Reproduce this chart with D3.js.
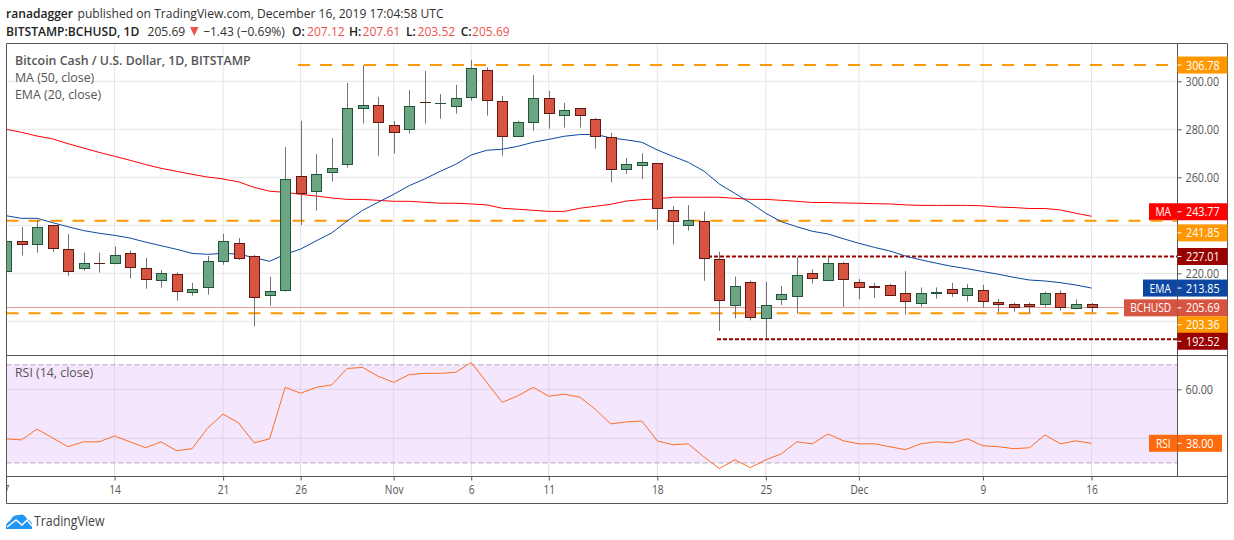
<!DOCTYPE html>
<html>
<head>
<meta charset="utf-8">
<script src="https://cdn.jsdelivr.net/npm/d3@7"></script>
<style>
  html, body { margin: 0; padding: 0; background: #fff; }
  svg { display: block; }
  text { font-family: "Open Sans", sans-serif; }
</style>
</head>
<body>
<div id="chart"></div>
<script>
// Daily candles, 7 Oct - 16 Dec 2019
const firstDay = new Date(Date.UTC(2019, 9, 7));
const lastDay = new Date(Date.UTC(2019, 11, 16));

const opens = [220.4, 233.3, 232.1, 240, 230, 221.7, 224.2, 223.75, 228.3, 222.1, 216.7, 219.6, 211.9, 213.75, 224.6, 232.5, 227.1, 210.7, 212.9, 260.4, 253.75, 261.7, 265.4, 288.6, 290,
  281.7, 280, 291.25, 290.7, 289.2, 292.9, 304.6, 291.7, 276.7, 282.5, 292.9, 285.4, 288.75, 284.2, 276.7, 263.2, 264.9, 265.8, 246.25, 240, 241.8, 226, 206.7, 216.4, 200.9, 208.75, 210.4, 220, 217.1, 224.2,
  216.4, 214.7, 215.2, 211.6, 207.4, 211.6, 213.3, 210.4, 212.9, 208.2, 207.4, 207, 206.6, 211.6, 205.3, 207.12];
const highs = [234, 239.3, 242.2, 240, 236.4, 228.6, 228.6, 231.1, 229.4, 226.4, 221.4, 220.4, 216, 227.2, 236.4, 234.7, 227.6, 218.5, 272.6, 283.5, 269.7, 276.4, 299.3, 306.7, 293.5,
  283.5, 296.4, 304.3, 294.7, 298.5, 308.9, 305.8, 293.9, 283.5, 302.6, 296, 291, 288.75, 284.7, 278.5, 268, 270, 265.8, 248, 248.4, 245.7, 229, 218.6, 216.9, 216.5, 214.7, 226.7, 221.7, 226.7, 224.7,
  217.6, 216, 215.6, 220.9, 214.1, 214.1, 216, 215.6, 215.2, 209.3, 207.8, 207.8, 212.4, 212.9, 209.1, 207.61];
const lows = [218, 227.4, 228.6, 228.9, 218.9, 221.1, 220.3, 223.75, 217.8, 213.6, 214, 208.6, 210.7, 211.1, 223.6, 225.6, 197.8, 206.5, 212.4, 240.1, 246.1, 258.2, 264, 282.4, 269,
  269.9, 278.2, 282.4, 284.4, 286.5, 291.9, 285.7, 269, 276.7, 279.4, 280.3, 280.7, 280.7, 271.9, 257.8, 261.4, 259.3, 238.1, 232, 237.8, 216.9, 196, 201.2, 200.4, 192.9, 206.8, 203.3, 215.7, 217.1, 206,
  209.2, 209.8, 211, 202.8, 206.1, 209.4, 210.2, 208.2, 205.7, 203.7, 204, 203.3, 206, 204.4, 204.9, 203.52];
const closes = [233.3, 231.7, 239.2, 230.4, 220.8, 224.2, 224, 227.5, 222.1, 217.1, 220, 212.5, 213.3, 225, 233.3, 226.1, 209.6, 212.5, 259.2, 253.3, 261.25, 263.75, 288.75, 290, 282.9,
  278.75, 289.6, 291.1, 290.8, 292.9, 305.4, 291.7, 277.1, 282.9, 292.9, 286.25, 287.9, 285.8, 277.1, 263.3, 265.4, 266.25, 246.7, 241.5, 242.2, 226, 208.9, 214.7, 201.6, 206.7, 211.25, 219.2, 217.5, 224.2, 217.5,
  214.3, 214, 211, 208.2, 211.6, 212.4, 211.6, 213.7, 208.2, 207.2, 206, 205.8, 211.6, 205.7, 207, 205.69];

const ma50 = [280, 278.75, 277.2, 276, 274, 272.2, 270.4, 268.75, 267.1, 265.3, 263.75, 262.5, 261.25, 260.1, 259.3, 258.1, 255.8, 254.2, 253.75, 252.9, 252.2, 251.4, 250.8, 250.8, 250.4,
  250, 250, 249.6, 249.2, 249.2, 248.9, 248.5, 247.1, 246.7, 246.25, 245.8, 245.8, 247.1, 247.9, 248.75, 250.1, 250.7, 251, 251.7, 251.7, 251.7, 251.7, 251.25, 250.8, 250.8, 250.4, 250, 249.5, 249.5, 249.3,
  249.2, 249, 248.9, 248.5, 248.3, 248.3, 248.3, 248.3, 248.1, 247.6, 247.4, 247, 247, 246.4, 245, 243.77];
const ema20 = [244, 242.9, 242.9, 241.1, 239.4, 237.8, 236.7, 235.8, 234.7, 233, 231.5, 230, 228.3, 227.9, 228.3, 228, 226.5, 225, 227.9, 230.1, 233.5, 236.8, 241.8, 246.25, 249.6,
  252.9, 256.5, 259.3, 262.5, 265.4, 269.3, 271.25, 271.7, 272.9, 274.6, 275.8, 277.1, 277.8, 277.9, 276.4, 275.6, 274.6, 271.4, 268.75, 266.25, 262.6, 257.2, 253.3, 249.4, 245, 241.5, 239.4, 237.5, 236.4, 234.4,
  232.5, 230.8, 229.3, 227.2, 225.6, 224.2, 222.9, 221.9, 220.7, 219.6, 218.3, 217.2, 216.8, 216.1, 215.1, 213.85];
const rsi14 = [39.8, 39.4, 43.8, 40.2, 36.6, 38.6, 38.6, 41, 38.6, 36.2, 38.6, 35, 35.8, 44.2, 49.9, 46.3, 38.2, 39.8, 60.8, 58.4, 60.8, 61.8, 68.5, 68.9, 65.3,
  62.8, 66, 66.5, 66.5, 66.9, 70.9, 62.8, 54.7, 57.3, 60.8, 57.2, 58, 56.8, 51.9, 45.9, 46.7, 47.1, 39, 37.4, 37.8, 32.5, 27.7, 31.3, 28.1, 31.3, 33.7, 38.6, 37.8, 41.8, 39,
  37.8, 37.8, 36.6, 35.4, 37.8, 38.6, 38.2, 39.8, 37, 36.6, 35.8, 36.2, 41.4, 37.8, 39, 38];

const priceTicks = [220, 260, 280, 300];
const priceGrid = [200, 220, 240, 260, 280, 300];
const rsiTicks = [60];
const rsiGrid = [40, 60];
const rsiBands = [30, 70];
const timeTicks = [[2019, 9, 7], [2019, 9, 14], [2019, 9, 21], [2019, 9, 26], [2019, 10, 1], [2019, 10, 6], [2019, 10, 11], [2019, 10, 18], [2019, 10, 25], [2019, 11, 1], [2019, 11, 9], [2019, 11, 16]]
  .map((d) => new Date(Date.UTC(d[0], d[1], d[2])));
const timeLabels = ["7", "14", "21", "26", "Nov", "6", "11", "18", "25", "Dec", "9", "16"];

const support = [306.78, 241.85, 203.36];
const rangeLines = [227.01, 192.52];
const lastPrice = 205.69;

// size and colours
const width = 1234, height = 540;
const frame = { left: 6.5, right: 1177.5, outer: 1227.5, top: 43.5, split: 355.5, bottom: 476.5, foot: 503.5 };
const up = "#6ba583", upBorder = "#225437", down = "#d75442", downBorder = "#5b1a13", wick = "#737375";
const orange = "#ff9800", darkRed = "#990000", gridColor = "#e6e6e6", ink = "#555555";

const days = d3.utcDay.range(firstDay, d3.utcDay.offset(lastDay, 1));
const candles = days.map((d, i) => ({ date: d, o: opens[i], h: highs[i], l: lows[i], c: closes[i] }));

const svg = d3.select("#chart").append("svg").attr("width", width).attr("height", height);

const x = d3.scaleUtc().domain([firstDay, lastDay]).range([6, 1091.5]);
const y = d3.scaleLinear().domain([300, 200]).range([81.3, 321.3]);
const yRsi = d3.scaleLinear().domain([60, 40]).range([389.3, 438.4]);

// the font here is wider than the original one, so text is pressed horizontally
function squeeze(selection, k) {
  selection.each(function () {
    const len = this.getComputedTextLength();
    d3.select(this).attr("textLength", len * k).attr("lengthAdjust", "spacingAndGlyphs");
  });
  return selection;
}

svg.append("clipPath").attr("id", "plot").append("rect")
  .attr("x", frame.left).attr("y", frame.top)
  .attr("width", frame.right - frame.left).attr("height", frame.bottom - frame.top);
svg.append("clipPath").attr("id", "timeClip").append("rect")
  .attr("x", frame.left).attr("y", 0).attr("width", frame.right - frame.left).attr("height", 30);

const plot = svg.append("g").attr("clip-path", "url(#plot)");

// rsi background goes first so grid lies on top of it
plot.append("rect")
  .attr("x", frame.left).attr("width", frame.right - frame.left)
  .attr("y", yRsi(70)).attr("height", yRsi(30) - yRsi(70))
  .attr("fill", "#f4e6fd");

// grid
plot.append("g").selectAll("line").data(timeTicks).join("line")
  .attr("x1", (d) => x(d)).attr("x2", (d) => x(d))
  .attr("y1", frame.top).attr("y2", frame.split).attr("stroke", gridColor);
plot.append("g").selectAll("line").data(timeTicks).join("line")
  .attr("x1", (d) => x(d)).attr("x2", (d) => x(d))
  .attr("y1", frame.split).attr("y2", frame.bottom).attr("stroke", "#e2d8ea");
plot.append("g").selectAll("line").data(priceGrid).join("line")
  .attr("x1", frame.left).attr("x2", frame.right)
  .attr("y1", (d) => y(d)).attr("y2", (d) => y(d)).attr("stroke", gridColor);
plot.append("g").selectAll("line").data(rsiGrid).join("line")
  .attr("x1", frame.left).attr("x2", frame.right)
  .attr("y1", (d) => yRsi(d)).attr("y2", (d) => yRsi(d)).attr("stroke", "#e0d2ea");
plot.append("g").selectAll("line").data(rsiBands).join("line")
  .attr("x1", frame.left).attr("x2", frame.right)
  .attr("y1", (d) => yRsi(d)).attr("y2", (d) => yRsi(d))
  .attr("stroke", "#b3a8ba").attr("stroke-dasharray", "5 3");

// last price line, snapped so the dots stay crisp
const lastY = Math.floor(y(lastPrice)) + 0.5;
plot.append("line")
  .attr("x1", frame.left).attr("x2", frame.right)
  .attr("y1", lastY).attr("y2", lastY)
  .attr("stroke", "#c8402f").attr("stroke-dasharray", "1 1");

// MA tag sits under the support line in the original
addTag(plot, "MA", y(243.77) - 4.5, "#ff0000", 1149);

// drawn support / resistance lines
const supportStart = [298, frame.left, frame.left];
plot.append("g").selectAll("line").data(support).join("line")
  .attr("x1", (d, i) => supportStart[i]).attr("x2", frame.right)
  .attr("y1", (d) => y(d)).attr("y2", (d) => y(d))
  .attr("stroke", orange).attr("stroke-width", 2).attr("stroke-dasharray", "12 10");
const rangeStart = [708, 717];
plot.append("g").selectAll("line").data(rangeLines).join("line")
  .attr("x1", (d, i) => rangeStart[i]).attr("x2", frame.right)
  .attr("y1", (d) => y(d)).attr("y2", (d) => y(d))
  .attr("stroke", darkRed).attr("stroke-width", 2).attr("stroke-dasharray", "4 2");

// moving averages
const priceLine = d3.line().x((d) => x(d[0])).y((d) => y(d[1]));
plot.append("path").datum(days.map((d, i) => [d, ma50[i]]))
  .attr("d", priceLine).attr("fill", "none").attr("stroke", "#ff0000");
plot.append("path").datum(days.map((d, i) => [d, ema20[i]]))
  .attr("d", priceLine).attr("fill", "none").attr("stroke", "#0d47a1");

// candles, the values read include the border so the rect is a pixel smaller
const candle = plot.append("g").selectAll("g").data(candles).join("g");
candle.append("line")
  .attr("x1", (d) => Math.round(x(d.date)) + 0.5).attr("x2", (d) => Math.round(x(d.date)) + 0.5)
  .attr("y1", (d) => y(d.h)).attr("y2", (d) => y(d.l))
  .attr("stroke", wick);
candle.append("rect")
  .attr("x", (d) => Math.round(x(d.date)) - 4.5)
  .attr("width", 10)
  .attr("y", (d) => Math.round(y(Math.max(d.o, d.c))) + 0.5)
  .attr("height", (d) => Math.max(Math.ceil(Math.abs(y(d.o) - y(d.c)) - 1), 0.01))
  .attr("fill", (d) => (d.c >= d.o ? up : down))
  .attr("stroke", (d) => (d.c >= d.o ? upBorder : downBorder));

// rsi line
plot.append("path").datum(days.map((d, i) => [d, rsi14[i]]))
  .attr("d", d3.line().x((d) => x(d[0])).y((d) => yRsi(d[1])))
  .attr("fill", "none").attr("stroke", "#ff6d22");

// frame
const frameLines = [
  [frame.left, frame.top, frame.outer, frame.top],
  [frame.left, frame.split, frame.outer, frame.split],
  [frame.left, frame.bottom, frame.outer, frame.bottom],
  [frame.left, frame.foot, frame.outer, frame.foot],
  [frame.left, frame.top, frame.left, frame.foot],
  [frame.right, frame.top, frame.right, frame.bottom],
  [frame.outer, frame.top, frame.outer, frame.foot],
];
svg.append("g").selectAll("line").data(frameLines).join("line")
  .attr("x1", (d) => d[0]).attr("y1", (d) => d[1]).attr("x2", (d) => d[2]).attr("y2", (d) => d[3])
  .attr("stroke", "#555555");

// axes
const fmt = (d) => d.toFixed(2);
const priceAxis = svg.append("g").attr("transform", `translate(${frame.right},0)`)
  .call(d3.axisRight(y).tickValues(priceTicks).tickFormat(fmt).tickSize(4).tickPadding(4));
const rsiAxis = svg.append("g").attr("transform", `translate(${frame.right},0)`)
  .call(d3.axisRight(yRsi).tickValues(rsiTicks).tickFormat(fmt).tickSize(4).tickPadding(4));
const timeAxis = svg.append("g").attr("transform", `translate(0,${frame.bottom})`).attr("clip-path", "url(#timeClip)")
  .call(d3.axisBottom(x).tickValues(timeTicks).tickFormat((d, i) => timeLabels[i]).tickSize(4).tickPadding(5));
[priceAxis, rsiAxis, timeAxis].forEach((a) => {
  a.select(".domain").remove();
  a.selectAll("line").attr("stroke", "#555555");
  a.selectAll("text").attr("fill", ink).style("font-family", '"Open Sans", sans-serif').style("font-size", "12px");
});
squeeze(priceAxis.selectAll("text"), 0.9);
squeeze(rsiAxis.selectAll("text"), 0.9);
squeeze(timeAxis.selectAll("text"), 0.85);

// tag left of the price scale
function addTag(parent, name, cy, color, left) {
  parent.append("rect").attr("x", left).attr("y", cy - 8.5).attr("width", frame.right - 0.5 - left).attr("height", 17).attr("fill", color);
  squeeze(parent.append("text").attr("x", (left + frame.right) / 2).attr("y", cy + 4.5)
    .attr("text-anchor", "middle").attr("fill", "#fff").style("font-size", "12px").text(name), 0.85);
}
// value box on the price scale
function addValue(value, cy, color, right) {
  svg.append("rect").attr("x", frame.right).attr("y", cy - 8.5).attr("width", (right || frame.outer) - frame.right).attr("height", 17).attr("fill", color);
  svg.append("line").attr("x1", frame.right).attr("x2", frame.right + 4).attr("y1", cy).attr("y2", cy).attr("stroke", "#fff");
  squeeze(svg.append("text").attr("x", frame.right + 8.5).attr("y", cy + 4.5).attr("fill", "#fff").style("font-size", "12px").text(fmt(value)), 0.9);
}

addValue(306.78, y(306.78), orange);
addValue(243.77, y(243.77) - 4.5, "#ff0000");
addValue(241.85, y(241.85) + 12, orange);
addValue(227.01, y(227.01), darkRed);
addTag(svg, "EMA", y(213.85), "#0d47a1", 1143);
addValue(213.85, y(213.85), "#0d47a1");
addTag(svg, "BCHUSD", y(lastPrice) + 0.2, down, 1124);
addValue(lastPrice, y(lastPrice) + 0.2, down);
addValue(203.36, y(203.36) + 11.5, orange);
addValue(192.52, y(192.52) + 2, darkRed);
addTag(svg, "RSI", yRsi(38), "#ff6a0d", 1149);
addValue(38, yRsi(38), "#ff6a0d", 1222);

// legend
const legend = svg.append("g").attr("fill", ink).style("font-size", "13px");
legend.append("text").attr("x", 15).attr("y", 65).attr("font-weight", 600).text("Bitcoin Cash / U.S. Dollar, 1D, BITSTAMP");
legend.append("text").attr("x", 15).attr("y", 82).text("MA (50, close)");
legend.append("text").attr("x", 15).attr("y", 99).text("EMA (20, close)");
legend.append("text").attr("x", 15).attr("y", 377).text("RSI (14, close)");
squeeze(legend.selectAll("text"), 0.95);

// header
const headBits = [
  ["ranadagger", 6, 18, 600, "#222"], ["published on TradingView.com, December 16, 2019 17:04:58 UTC", 77.5, 18, 400, "#333"],
  ["BITSTAMP:BCHUSD, 1D", 6, 36, 600, "#222"], ["205.69", 147.5, 36, 400, "#333"], ["\u22121.43 (\u22120.69%)", 203, 36, 400, "#333"],
  ["O:", 292, 36, 600, "#222"], ["207.12", 307, 36, 400, "#ef5350"], ["H:", 349, 36, 600, "#222"], ["207.61", 362.5, 36, 400, "#ef5350"],
  ["L:", 406, 36, 600, "#222"], ["203.52", 417.5, 36, 400, "#ef5350"], ["C:", 460.7, 36, 600, "#222"], ["205.69", 472, 36, 400, "#ef5350"],
];
const head = svg.append("g").style("font-size", "13px").selectAll("text").data(headBits).join("text")
  .attr("x", (d) => d[1]).attr("y", (d) => d[2]).attr("font-weight", (d) => d[3]).attr("fill", (d) => d[4]).text((d) => d[0]);
squeeze(head, 0.93);
svg.append("path").attr("d", "M190 27h8.5l-4.25 9z").attr("fill", "#ef5350");

// TradingView mark
svg.append("path")
  .attr("d", "M6 529Q5 523 10 521Q13 514 19 515Q24 513 27 519Q33 521 32 529Z")
  .attr("fill", "#2196f3");
svg.append("path")
  .attr("d", "M7 527L16 520L22 525L27 520L32 526")
  .attr("fill", "none").attr("stroke", "#fff").attr("stroke-width", 1.5);
squeeze(svg.append("text").attr("x", 34).attr("y", 526).attr("fill", "#444").style("font-size", "14px").text("TradingView"), 0.88);
</script>
</body>
</html>
